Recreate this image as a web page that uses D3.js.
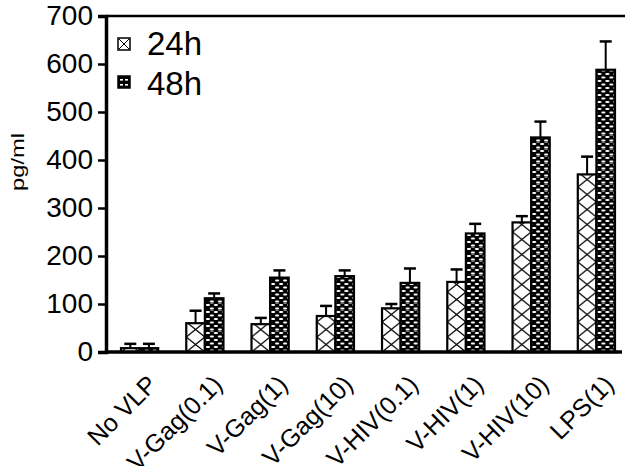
<!DOCTYPE html>
<html>
<head>
<meta charset="utf-8">
<script src="https://cdn.jsdelivr.net/npm/d3@7"></script>
<style>
  html, body { margin: 0; padding: 0; background: #fff; }
  svg { display: block; font-family: "Liberation Sans", Arial, sans-serif; }
</style>
</head>
<body>
<svg width="625" height="466"></svg>
<script>
// data
var categories = ["No VLP", "V-Gag(0.1)", "V-Gag(1)", "V-Gag(10)", "V-HIV(0.1)", "V-HIV(1)", "V-HIV(10)", "LPS(1)"];
var series = ["24h", "48h"];
var mean24 = [8, 60, 58, 75, 91, 146, 270, 370];
var err24  = [9, 26, 13, 21, 9, 26, 13, 37];
var mean48 = [8, 112, 155, 158, 144, 247, 447, 588];
var err48  = [9, 10, 15, 12, 30, 20, 33, 59];
var yTicks = [0, 100, 200, 300, 400, 500, 600, 700];

var svg = d3.select("svg"),
    plotL = 106, plotR = 625, plotT = 16, plotB = 352;

var x0 = d3.scaleBand().domain(categories).range([plotL, 630])
    .paddingInner(0.43).paddingOuter(0.23);
var x1 = d3.scaleBand().domain(series).range([0, x0.bandwidth()]);
var y = d3.scaleLinear().domain([0, 700]).range([plotB, plotT]);

var bw = x1.bandwidth();

// fill patterns
var defs = svg.append("defs");
var pX = defs.append("pattern").attr("id", "p24")
    .attr("patternUnits", "userSpaceOnUse")
    .attr("width", bw).attr("height", 15);
pX.append("rect").attr("width", bw).attr("height", 15).attr("fill", "#fff");
pX.append("path").attr("d", "M0,0L" + bw + ",15M" + bw + ",0L0,15")
    .attr("stroke", "#000").attr("stroke-width", 1.3).attr("fill", "none");

var pD = defs.append("pattern").attr("id", "p48")
    .attr("patternUnits", "userSpaceOnUse")
    .attr("width", 8).attr("height", 7);
pD.append("rect").attr("width", 8).attr("height", 7).attr("fill", "#000");
pD.append("rect").attr("x", 1).attr("y", 1).attr("width", 4).attr("height", 2).attr("rx", 1).attr("fill", "#fff");
pD.append("rect").attr("x", 5).attr("y", 4.5).attr("width", 4).attr("height", 2).attr("rx", 1).attr("fill", "#fff");
pD.append("rect").attr("x", -3).attr("y", 4.5).attr("width", 4).attr("height", 2).attr("rx", 1).attr("fill", "#fff");

var rows = categories.map(function(c, i) {
  return [
    {key: "24h", cat: c, v: mean24[i], e: err24[i]},
    {key: "48h", cat: c, v: mean48[i], e: err48[i]}
  ];
});

var bars = svg.append("g").selectAll("g")
  .data(d3.merge(rows))
  .enter().append("g")
    .attr("transform", function(d) { return "translate(" + (x0(d.cat) + x1(d.key)) + "," + plotB + ")"; });

// error bars (upward only)
bars.append("line")
    .attr("x1", bw / 2).attr("x2", bw / 2)
    .attr("y1", function(d) { return y(d.v) - plotB; })
    .attr("y2", function(d) { return y(d.v + d.e) - plotB; })
    .attr("stroke", "#000").attr("stroke-width", 2);
bars.append("line")
    .attr("x1", bw / 2 - 6).attr("x2", bw / 2 + 6)
    .attr("y1", function(d) { return y(d.v + d.e) - plotB; })
    .attr("y2", function(d) { return y(d.v + d.e) - plotB; })
    .attr("stroke", "#000").attr("stroke-width", 2.5);

bars.append("rect")
    .attr("x", 0)
    .attr("y", function(d) { return y(d.v) - plotB; })
    .attr("width", bw)
    .attr("height", function(d) { return plotB - y(d.v); })
    .attr("fill", function(d) { return d.key == "24h" ? "url(#p24)" : "url(#p48)"; })
    .attr("stroke", "#000").attr("stroke-width", 2.2);

// frame: top line and x baseline
svg.append("line").attr("x1", plotL).attr("x2", plotR).attr("y1", plotT).attr("y2", plotT)
    .attr("stroke", "#000").attr("stroke-width", 2.5);
svg.append("line").attr("x1", plotL).attr("x2", 622).attr("y1", plotB).attr("y2", plotB)
    .attr("stroke", "#000").attr("stroke-width", 3.5);

// y axis
var yAxis = svg.append("g")
    .attr("transform", "translate(" + plotL + ",0)")
    .call(d3.axisLeft(y).tickValues(yTicks).tickSize(8).tickPadding(5));
yAxis.select(".domain").attr("stroke-width", 3.5);
yAxis.selectAll(".tick line").attr("stroke-width", 2.5);
yAxis.selectAll("text").attr("font-size", 28).attr("fill", "#000")
    .style("font-family", "Liberation Sans, Arial, sans-serif");

svg.append("text")
    .attr("transform", "translate(24,162) rotate(-90)")
    .attr("text-anchor", "middle")
    .attr("font-size", 18)
    .attr("textLength", 58)
    .attr("lengthAdjust", "spacingAndGlyphs")
    .text("pg/ml");

// x labels rotated
svg.append("g").selectAll("text")
  .data(categories)
  .enter().append("text")
    .attr("transform", function(d) { return "translate(" + (x0(d) + x0.bandwidth() / 2 + 19) + ",386) rotate(-45)"; })
    .attr("text-anchor", "end")
    .attr("font-size", 25)
    .text(function(d) { return d; });

// legend
var legend = svg.append("g").selectAll("g")
  .data(series)
  .enter().append("g")
    .attr("transform", function(d, i) { return "translate(118," + (38 + i * 38) + ")"; });
legend.append("rect")
    .attr("width", 12).attr("height", 12)
    .attr("fill", function(d) { return d == "24h" ? "#fff" : "#000"; })
    .attr("stroke", "#000").attr("stroke-width", 1.5);
legend.filter(function(d) { return d == "24h"; }).append("path")
    .attr("d", "M1,1L11,11M11,1L1,11").attr("stroke", "#000").attr("stroke-width", 1);
legend.filter(function(d) { return d == "48h"; }).selectAll(".dash")
  .data([[2, 3], [7, 3], [2, 8], [7, 8]])
  .enter().append("rect")
    .attr("x", function(d) { return d[0]; }).attr("y", function(d) { return d[1]; })
    .attr("width", 3).attr("height", 1.6).attr("fill", "#fff");
legend.append("text")
    .attr("x", 29).attr("y", function(d, i) { return 17 + i * 2; })
    .attr("font-size", 33)
    .text(function(d) { return d; });
</script>
</body>
</html>
